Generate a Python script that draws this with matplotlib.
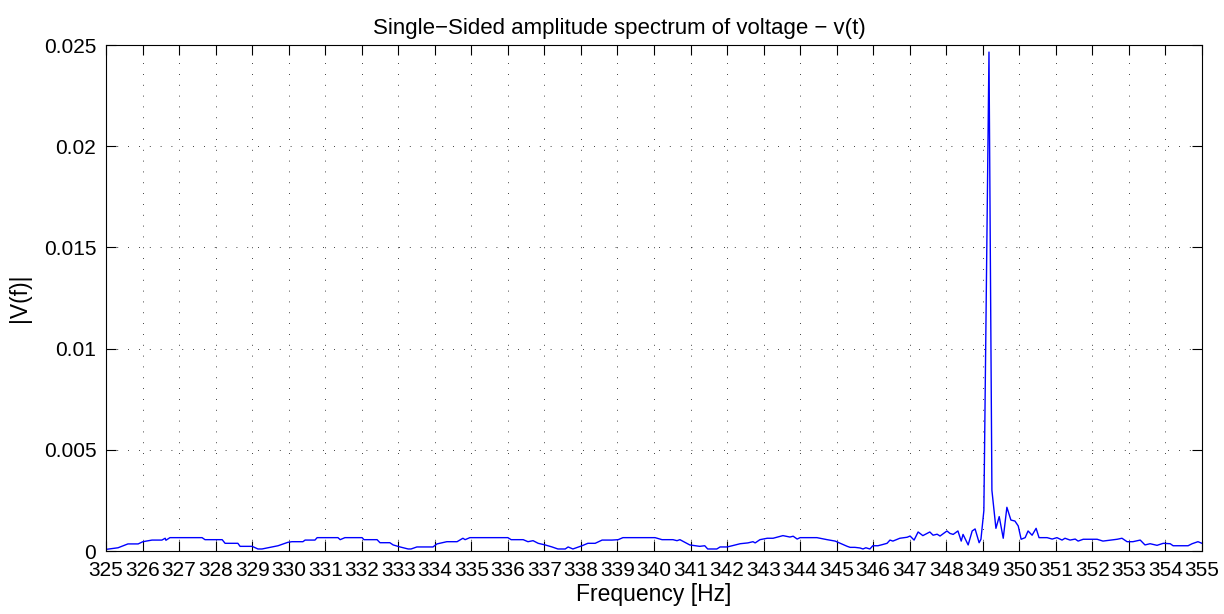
import matplotlib
matplotlib.use("Agg")
import matplotlib.pyplot as plt

plt.rcParams['font.family'] = ['Liberation Sans', 'DejaVu Sans']

# Single-sided amplitude spectrum |V(f)| (frequency in Hz, amplitude)
freq = [325.00, 325.33, 325.60, 325.88, 326.01, 326.26, 326.53, 326.62, 326.64, 326.75,
        327.63, 327.71, 328.18, 328.26, 328.61, 328.67, 329.00, 329.16, 329.27, 329.43,
        329.71, 329.98, 330.09, 330.39, 330.45, 330.72, 330.78, 331.35, 331.41, 331.54,
        332.01, 332.06, 332.42, 332.50, 332.77, 332.86, 333.05, 333.27, 333.35, 333.51,
        333.95, 334.06, 334.33, 334.61, 334.77, 334.83, 334.96, 336.00, 336.09, 336.42,
        336.55, 336.69, 336.83, 337.02, 337.21, 337.37, 337.57, 337.65, 337.78, 338.03,
        338.19, 338.39, 338.58, 338.85, 339.02, 339.15, 340.03, 340.22, 340.52, 340.63,
        340.71, 340.98, 341.25, 341.39, 341.47, 341.72, 341.81, 342.00, 342.14, 342.36,
        342.57, 342.71, 342.77, 342.90, 343.10, 343.26, 343.53, 343.72, 343.81, 343.92,
        344.00, 344.46, 344.74, 344.96, 345.10, 345.29, 345.37, 345.50, 345.64, 345.72,
        345.80, 345.91, 345.99, 346.13, 346.24, 346.38, 346.46, 346.54, 346.73, 346.93,
        347.01, 347.12, 347.23, 347.36, 347.55, 347.64, 347.75, 347.83, 348.02, 348.10,
        348.19, 348.32, 348.41, 348.46, 348.60, 348.71, 348.79, 348.90, 348.95, 349.03,
        349.17, 349.25, 349.36, 349.45, 349.56, 349.66, 349.77, 349.88, 349.97, 350.05,
        350.16, 350.24, 350.35, 350.46, 350.54, 350.76, 350.90, 351.03, 351.17, 351.25,
        351.39, 351.53, 351.61, 351.75, 352.13, 352.29, 352.68, 352.81, 352.95, 353.11,
        353.31, 353.44, 353.58, 353.77, 353.94, 354.13, 354.21, 354.62, 354.73, 354.89,
        355.00]

amplitude = [0.00008, 0.00016, 0.00035, 0.00035, 0.00046, 0.00054, 0.00054, 0.00063, 0.00053, 0.00066,
             0.00066, 0.00056, 0.00056, 0.00038, 0.00038, 0.00023, 0.00023, 0.00010, 0.00010, 0.00016,
             0.00026, 0.00043, 0.00046, 0.00046, 0.00054, 0.00054, 0.00066, 0.00066, 0.00056, 0.00066,
             0.00066, 0.00056, 0.00056, 0.00041, 0.00041, 0.00030, 0.00020, 0.00010, 0.00010, 0.00020,
             0.00020, 0.00035, 0.00046, 0.00046, 0.00063, 0.00056, 0.00066, 0.00066, 0.00056, 0.00056,
             0.00046, 0.00051, 0.00038, 0.00030, 0.00020, 0.00010, 0.00010, 0.00020, 0.00010, 0.00026,
             0.00038, 0.00038, 0.00054, 0.00054, 0.00056, 0.00066, 0.00066, 0.00056, 0.00056, 0.00051,
             0.00056, 0.00030, 0.00023, 0.00026, 0.00010, 0.00010, 0.00020, 0.00020, 0.00026, 0.00036,
             0.00040, 0.00046, 0.00040, 0.00056, 0.00063, 0.00063, 0.00076, 0.00069, 0.00073, 0.00059,
             0.00066, 0.00066, 0.00056, 0.00049, 0.00038, 0.00023, 0.00018, 0.00018, 0.00015, 0.00010,
             0.00016, 0.00010, 0.00026, 0.00026, 0.00031, 0.00038, 0.00054, 0.00049, 0.00063, 0.00068,
             0.00074, 0.00054, 0.00094, 0.00076, 0.00094, 0.00078, 0.00083, 0.00074, 0.00099, 0.00087,
             0.00082, 0.00099, 0.00049, 0.00082, 0.00030, 0.00099, 0.00109, 0.00041, 0.00058, 0.00200,
             0.02465, 0.00300, 0.00112, 0.00170, 0.00063, 0.00216, 0.00153, 0.00148, 0.00124, 0.00058,
             0.00066, 0.00099, 0.00078, 0.00112, 0.00066, 0.00066, 0.00059, 0.00066, 0.00054, 0.00063,
             0.00054, 0.00059, 0.00049, 0.00058, 0.00058, 0.00049, 0.00058, 0.00063, 0.00046, 0.00046,
             0.00054, 0.00030, 0.00036, 0.00028, 0.00038, 0.00036, 0.00026, 0.00026, 0.00036, 0.00046,
             0.00038]

x_ticks = list(range(325, 356))
y_ticks = [0, 0.005, 0.01, 0.015, 0.02, 0.025]
y_tick_labels = ['0', '0.005', '0.01', '0.015', '0.02', '0.025']

fig = plt.figure(figsize=(12.24, 6.14), dpi=100)
ax = fig.add_axes([0.0866, 0.1026, 0.8954, 0.8241])

ax.plot(freq, amplitude, color=(0, 0, 1), linewidth=1.0)

ax.set_xlim(325, 355)
ax.set_ylim(0, 0.025)
ax.set_xticks(x_ticks)
ax.set_xticklabels([str(t) for t in x_ticks])
ax.set_yticks(y_ticks)
ax.set_yticklabels(y_tick_labels)

ax.tick_params(direction='in', length=7, width=0.8, labelsize=15,
               top=True, right=True, colors='black')
ax.tick_params(axis='x', pad=7)
ax.tick_params(axis='y', pad=7)
for s in ax.spines.values():
    s.set_linewidth(0.8)
    s.set_color('black')

ax.grid(True, color='black', linewidth=0.6, linestyle=(0, (1, 12)))
ax.set_axisbelow(True)

ax.set_title('Single\u2212Sided amplitude spectrum of voltage \u2212 v(t)',
             fontsize=16, pad=8, x=0.468)
ax.set_xlabel('Frequency [Hz]', fontsize=16.5, labelpad=2)
ax.set_ylabel('|V(f)|', fontsize=16.5, labelpad=9)

fig.savefig('out.png', dpi=100, facecolor='white')
